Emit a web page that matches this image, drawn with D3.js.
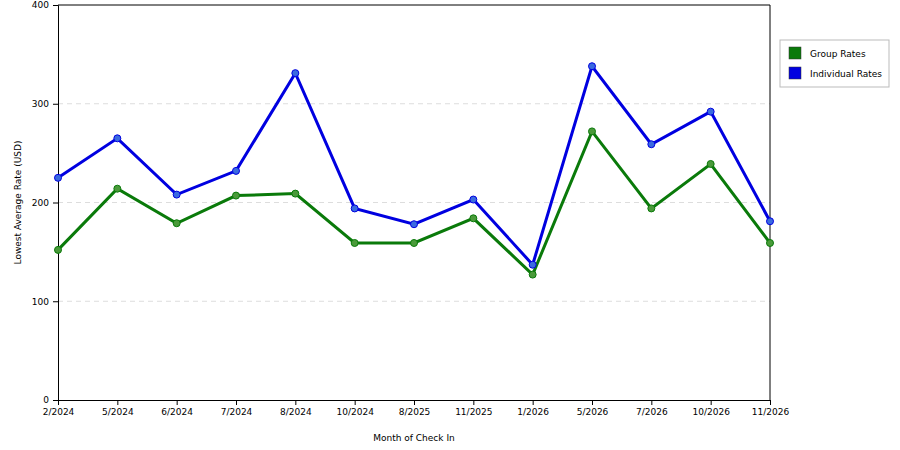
<!DOCTYPE html>
<html>
<head>
<meta charset="utf-8">
<script src="https://cdn.jsdelivr.net/npm/d3@7"></script>
<style>
body{margin:0;background:#fff;}
text{font-family:"DejaVu Sans",sans-serif;font-size:9px;fill:#000;}
</style>
</head>
<body>
<svg id="chart" width="900" height="450"></svg>
<script>
var months = ["2/2024","5/2024","6/2024","7/2024","8/2024","10/2024","8/2025","11/2025","1/2026","5/2026","7/2026","10/2026","11/2026"];
var groupRates = [152,214,179,207,209,159,159,184,127,272,194,239,159];
var individualRates = [225,265,208,232,331,194,178,203,137,338,259,292,181];
var yTicks = [0,100,200,300,400];

var margin = {left:58, top:5, right:130, bottom:50};
var W = 900, H = 450;
var svg = d3.select("#chart");

var x = d3.scalePoint().domain(months).range([margin.left, W - margin.right]);
var y = d3.scaleLinear().domain([0,400]).range([H - margin.bottom, margin.top]);

// gridlines
svg.append("g").selectAll("line").data([100,200,300]).enter().append("line")
  .attr("x1", margin.left).attr("x2", W - margin.right)
  .attr("y1", d => y(d)).attr("y2", d => y(d))
  .attr("stroke", "#ddd").attr("stroke-dasharray", "5,4");

// frame top/right
svg.append("path")
  .attr("d", "M" + margin.left + "," + y(400) + "H" + (W - margin.right) + "V" + y(0))
  .attr("fill", "none").attr("stroke", "#000");

var xa = svg.append("g").attr("transform", "translate(0," + y(0) + ")")
  .call(d3.axisBottom(x).tickSize(5).tickPadding(4));
var ya = svg.append("g").attr("transform", "translate(" + margin.left + ",0)")
  .call(d3.axisLeft(y).tickValues(yTicks).tickSize(5).tickPadding(4));
svg.selectAll(".domain, .tick line").attr("stroke", "#000");
svg.selectAll(".tick text").style("font-family", "DejaVu Sans").style("font-size", "9px");

svg.append("text").attr("x", (margin.left + W - margin.right) / 2).attr("y", 441)
  .attr("text-anchor", "middle").text("Month of Check In");
svg.append("text").attr("transform", "translate(21," + (y(200)) + ") rotate(-90)")
  .attr("text-anchor", "middle").text("Lowest Average Rate (USD)");

var series = [
  {name:"Group Rates", values:groupRates, color:"#0a7a0a", dot:"#4a9a3a"},
  {name:"Individual Rates", values:individualRates, color:"#0000e0", dot:"#3a6ae0"}
];
var line = d3.line().x((d,i) => x(months[i])).y(d => y(d));
series.forEach(function(s){
  svg.append("path").datum(s.values).attr("d", line)
    .attr("fill", "none").attr("stroke", s.color).attr("stroke-width", 3);
  svg.append("g").selectAll("circle").data(s.values).enter().append("circle")
    .attr("cx", (d,i) => x(months[i])).attr("cy", d => y(d)).attr("r", 3.5)
    .attr("fill", s.dot).attr("stroke", s.color).attr("stroke-width", 1);
});

// legend
var lg = svg.append("g").attr("transform", "translate(780,40)");
lg.append("rect").attr("width", 109).attr("height", 47).attr("fill", "#fff").attr("stroke", "#bbb");
series.forEach(function(s, i){
  lg.append("rect").attr("x", 9).attr("y", 7 + i*20).attr("width", 12).attr("height", 12)
    .attr("fill", s.color).attr("stroke", "#333").attr("stroke-width", 0.5);
  lg.append("text").attr("x", 30).attr("y", 17 + i*20).text(s.name);
});
</script>
</body>
</html>
